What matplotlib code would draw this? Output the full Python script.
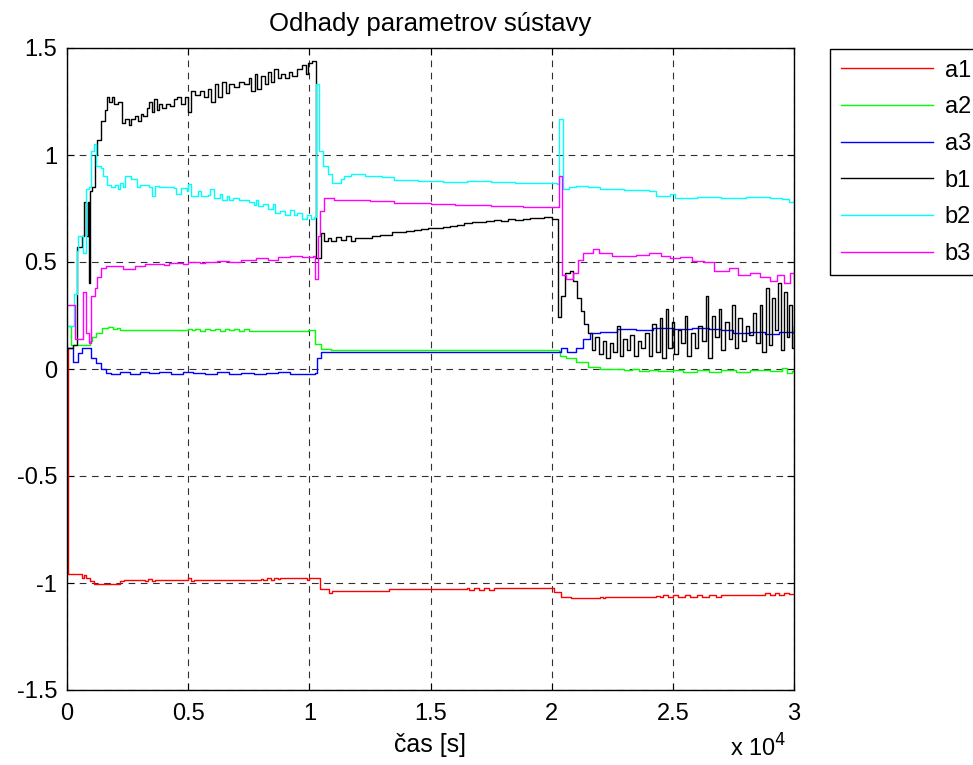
import matplotlib
matplotlib.use("Agg")
import matplotlib.pyplot as plt

plt.rcParams['font.family'] = ['Liberation Sans', 'DejaVu Sans']

# Parameter estimates: breakpoints (time in s, value), held constant between samples
t_a1 = [0, 40, 600, 700, 800, 950, 1100, 2200, 2350, 3200, 3350, 3500, 3650, 5000, 5100, 5250,
        8000, 8100, 8250, 8400, 8550, 8700, 8800, 9900, 10000, 10450, 10800, 10950, 13300,
        16500, 16600, 16800, 17000, 17200, 17400, 17600, 20100, 20400, 20800, 22000, 22100, 22200,
        24300, 24450, 24600, 24800, 25000, 25200, 25500, 25700, 26000, 26200, 26500, 26800, 27000,
        28800, 29000, 29200, 29400, 29600, 29800, 30000]
a1 = [0.10, -0.958, -0.975, -0.962, -0.975, -0.99, -1.003, -0.99, -0.985, -0.99, -0.982, -0.99, -0.985,
      -0.978, -0.99, -0.985, -0.98, -0.985, -0.977, -0.985, -0.977, -0.983, -0.977, -0.985, -0.977,
      -1.03, -1.045, -1.038, -1.03, -1.025, -1.032, -1.025, -1.032, -1.025, -1.032, -1.022,
      -1.04, -1.065, -1.072, -1.066, -1.072, -1.066, -1.060, -1.067, -1.058, -1.066, -1.058, -1.066,
      -1.058, -1.065, -1.058, -1.065, -1.057, -1.064, -1.055, -1.048, -1.057, -1.046, -1.055, -1.045,
      -1.052, -1.05]

t_a2 = [0, 150, 900, 950, 1050, 1200, 1450, 1700, 1900, 2050, 2200, 5000, 5150, 5300, 5500, 5700,
        5900, 6100, 6300, 6500, 6700, 6900, 7100, 7300, 7500, 9950, 10250, 10500, 10900, 20300,
        20350, 20600, 21000, 21500, 22000, 23000, 23300, 23600, 24000, 24400, 25000, 25400, 26000,
        26500, 27000, 27600, 28200, 29000, 29500, 29700, 29900, 30000]
a2 = [0.20, 0.11, 0.11, 0.13, 0.15, 0.17, 0.19, 0.195, 0.185, 0.19, 0.18, 0.188, 0.18, 0.186,
      0.178, 0.188, 0.18, 0.186, 0.178, 0.188, 0.18, 0.186, 0.178, 0.186, 0.178, 0.18, 0.115,
      0.095, 0.09, 0.085, 0.06, 0.05, 0.035, 0.01, 0.0, -0.005, 0.0, -0.008, -0.003, -0.01, -0.004,
      -0.012, -0.006, -0.012, -0.004, -0.012, -0.006, -0.01, 0.005, -0.02, -0.01, -0.015]

t_a3 = [0, 250, 450, 600, 900, 1000, 1200, 1400, 1600, 1800, 2200, 2600, 3000, 3400, 3800, 4300,
        4800, 5200, 5700, 6200, 6700, 7200, 7700, 8200, 8700, 9200, 9700, 10250, 10300, 10500,
        20300, 20400, 20650, 21000, 21300, 21600, 22000, 22700, 23500, 24200, 25000, 25800,
        26500, 27000, 27500, 28200, 28800, 29400, 30000]
a3 = [0.10, 0.035, 0.075, 0.10, 0.10, 0.05, 0.03, 0.0, -0.02, -0.025, -0.015, -0.022, -0.012,
      -0.02, -0.015, -0.023, -0.012, -0.02, -0.025, -0.015, -0.022, -0.018, -0.025, -0.02,
      -0.015, -0.025, -0.022, -0.02, 0.05, 0.08, 0.08, 0.10, 0.08, 0.10, 0.14, 0.17, 0.175,
      0.185, 0.18, 0.19, 0.185, 0.19, 0.185, 0.18, 0.17, 0.175, 0.165, 0.175, 0.17]

t_b1 = [0, 250, 400, 600, 700, 780, 850, 900, 950, 1050, 1150, 1250, 1400, 1550, 1650, 1750, 1850,
        1950, 2100, 2250, 2400, 2550, 2650, 2800, 2950, 3050, 3150, 3300, 3400, 3500, 3600, 3700,
        3800, 3900, 4100, 4250, 4400, 4550, 4700, 4850, 5000, 5100, 5300, 5500, 5650, 5800, 5950,
        6100, 6250, 6400, 6550, 6700, 6900, 7100, 7300, 7500, 7600, 7750, 7850, 8000, 8150, 8300,
        8400, 8550, 8700, 8850, 9000, 9150, 9300, 9500, 9700, 9850, 9950, 10100, 10280, 10500,
        10600, 10750, 10900, 11100, 11300, 11500, 11700, 11900, 12200, 12600, 12900, 13200, 13400,
        13700, 14000, 14300, 14600, 14900, 15200, 15500, 15800, 16100, 16400, 16700, 17000, 17300,
        17600, 17900, 18200, 18500, 18800, 19100, 19400, 19700, 20000, 20250, 20400, 20550, 20750,
        20900, 21050, 21200, 21350, 21500, 21650, 21800, 21950, 22100, 22250, 22400, 22550, 22700,
        22800, 22950, 23100, 23250, 23400, 23550, 23700, 23850, 24000, 24150, 24300, 24450, 24550,
        24700, 24800, 24950, 25050, 25200, 25350, 25500, 25600, 25750, 25900, 26050, 26200, 26350,
        26450, 26600, 26750, 26900, 27000, 27150, 27300, 27450, 27550, 27700, 27850, 28000, 28150,
        28300, 28450, 28600, 28700, 28850, 28950, 29100, 29200, 29350, 29450, 29600, 29700, 29800,
        29900, 30000]
b1 = [0.10, 0.11, 0.57, 0.62, 0.78, 0.62, 0.78, 0.40, 0.83, 0.85, 1.0, 1.07, 1.16, 1.21, 1.27,
      1.25, 1.27, 1.24, 1.25, 1.15, 1.17, 1.14, 1.17, 1.18, 1.16, 1.19, 1.18, 1.22, 1.25, 1.20,
      1.26, 1.21, 1.24, 1.22, 1.24, 1.23, 1.26, 1.27, 1.24, 1.27, 1.20, 1.30, 1.28, 1.30, 1.27,
      1.31, 1.25, 1.33, 1.27, 1.34, 1.29, 1.33, 1.32, 1.34, 1.33, 1.36, 1.30, 1.38, 1.31, 1.37,
      1.33, 1.39, 1.34, 1.40, 1.36, 1.38, 1.36, 1.39, 1.37, 1.40, 1.42, 1.38, 1.43, 1.44, 0.52,
      0.635, 0.60, 0.61, 0.60, 0.615, 0.605, 0.62, 0.60, 0.61, 0.61, 0.62, 0.625, 0.625, 0.64,
      0.64, 0.645, 0.65, 0.655, 0.66, 0.66, 0.665, 0.67, 0.675, 0.68, 0.685, 0.685, 0.69, 0.695,
      0.69, 0.70, 0.695, 0.70, 0.705, 0.705, 0.71, 0.70, 0.245, 0.34, 0.45, 0.46, 0.41, 0.33,
      0.27, 0.21, 0.17, 0.09, 0.15, 0.07, 0.13, 0.05, 0.12, 0.08, 0.20, 0.06, 0.14, 0.09, 0.16,
      0.06, 0.13, 0.10, 0.17, 0.06, 0.21, 0.08, 0.24, 0.05, 0.28, 0.10, 0.22, 0.07, 0.18, 0.12,
      0.25, 0.06, 0.17, 0.10, 0.20, 0.13, 0.34, 0.05, 0.25, 0.15, 0.28, 0.09, 0.22, 0.14, 0.30,
      0.10, 0.24, 0.13, 0.20, 0.16, 0.26, 0.12, 0.30, 0.08, 0.38, 0.11, 0.33, 0.18, 0.40, 0.09,
      0.36, 0.15, 0.30, 0.10, 0.20]

t_b2 = [0, 300, 400, 470, 650, 780, 900, 1000, 1120, 1200, 1400, 1500, 1650, 1800, 2000, 2100,
        2200, 2300, 2400, 2650, 2900, 3000, 3400, 3500, 3650, 3800, 4400, 4500, 4700, 4950, 5000,
        5100, 5400, 5550, 5800, 5900, 6050, 6300, 6400, 6600, 6700, 6850, 7100, 7500, 7700, 7800,
        7900, 8100, 8300, 8500, 8600, 8800, 9000, 9200, 9350, 9500, 9700, 9900, 10050, 10200,
        10270, 10400, 10550, 10750, 10950, 11300, 11450, 11700, 12300, 13000, 13500, 14500, 15500,
        16500, 17500, 18500, 19500, 20200, 20300, 20450, 20700, 21000, 21500, 22000, 23000, 24000,
        24300, 24700, 24900, 25100, 26000, 27000, 28000, 29000, 29500, 29800, 30000]
b2 = [0.20, 0.35, 0.55, 0.62, 0.54, 0.84, 0.85, 1.02, 1.05, 0.95, 0.94, 0.90, 0.86, 0.85, 0.86,
      0.84, 0.87, 0.85, 0.90, 0.89, 0.85, 0.86, 0.85, 0.81, 0.855, 0.85, 0.845, 0.82, 0.845,
      0.83, 0.865, 0.81, 0.83, 0.81, 0.815, 0.84, 0.80, 0.82, 0.79, 0.81, 0.79, 0.80, 0.79, 0.78,
      0.765, 0.79, 0.76, 0.77, 0.75, 0.77, 0.73, 0.74, 0.72, 0.745, 0.72, 0.73, 0.70, 0.72, 0.70,
      0.71, 1.33, 1.02, 0.95, 0.91, 0.87, 0.89, 0.90, 0.91, 0.90, 0.895, 0.885, 0.88, 0.875,
      0.88, 0.875, 0.87, 0.87, 0.865, 1.17, 0.84, 0.85, 0.855, 0.85, 0.84, 0.835, 0.83, 0.81,
      0.81, 0.82, 0.80, 0.805, 0.80, 0.805, 0.80, 0.795, 0.78, 0.785]

t_b3 = [0, 350, 650, 780, 900, 1000, 1150, 1250, 1400, 1600, 2300, 2800, 3200, 4000, 4200, 4800,
        5000, 5500, 5700, 6200, 6700, 7200, 7800, 8300, 8700, 9200, 9700, 10150, 10250, 10350,
        10450, 10600, 11000, 12500, 13500, 15000, 16000, 17500, 18800, 20300, 20430, 20600, 20900,
        21100, 21300, 21700, 21950, 22500, 23500, 24000, 24500, 24900, 25300, 25800, 26300, 26700,
        27300, 27700, 28200, 28600, 29000, 29300, 29600, 29850, 30000]
b3 = [0.30, 0.14, 0.36, 0.17, 0.12, 0.34, 0.38, 0.43, 0.47, 0.48, 0.465, 0.48, 0.49, 0.485,
      0.495, 0.49, 0.50, 0.495, 0.50, 0.505, 0.50, 0.51, 0.52, 0.51, 0.525, 0.53, 0.525, 0.53,
      0.42, 0.62, 0.74, 0.80, 0.79, 0.785, 0.775, 0.77, 0.765, 0.76, 0.755, 0.90, 0.44, 0.42,
      0.45, 0.51, 0.54, 0.56, 0.54, 0.53, 0.535, 0.54, 0.53, 0.52, 0.525, 0.505, 0.50, 0.46,
      0.47, 0.44, 0.45, 0.43, 0.41, 0.44, 0.40, 0.45, 0.42]

names = ['a1', 'a2', 'a3', 'b1', 'b2', 'b3']
colors = ['#ff0000', '#00ff00', '#0000ff', '#000000', '#00ffff', '#ff00ff']
series = [(t_a1, a1), (t_a2, a2), (t_a3, a3), (t_b1, b1), (t_b2, b2), (t_b3, b3)]

x_ticks = [0, 5000, 10000, 15000, 20000, 25000, 30000]
x_tick_labels = ['0', '0.5', '1', '1.5', '2', '2.5', '3']
y_ticks = [-1.5, -1, -0.5, 0, 0.5, 1, 1.5]
y_tick_labels = ['-1.5', '-1', '-0.5', '0', '0.5', '1', '1.5']

fig = plt.figure(figsize=(9.73, 7.65), dpi=100)
ax = fig.add_axes([67 / 973, 1 - 690 / 765, (794 - 67) / 973, (690 - 48) / 765])

for (t, v), name, c in zip(series, names, colors):
    ax.plot(t, v, drawstyle='steps-post', color=c, lw=1.0, label=name)

ax.set_xlim(0, 30000)
ax.set_ylim(-1.5, 1.5)
ax.set_xticks(x_ticks)
ax.set_xticklabels(x_tick_labels)
ax.set_yticks(y_ticks)
ax.set_yticklabels(y_tick_labels)
ax.tick_params(direction='in', top=True, right=True, length=5, width=0.8,
               labelsize=17, pad=7)
ax.tick_params(axis='x', pad=9)
ax.grid(True, color='#303030', linestyle=(0, (6, 5)), linewidth=0.8)
for s in ax.spines.values():
    s.set_linewidth(1.0)

ax.set_title('Odhady parametrov sústavy', fontsize=18.5, pad=12)
ax.set_xlabel('čas [s]', fontsize=18, labelpad=6)
fig.text(730 / 973, 1 - 762 / 765, 'x 10$^4$', fontsize=17, ha='left', va='bottom')

leg = ax.legend(loc='upper left', bbox_to_anchor=(830 / 973, 1 - 49 / 765),
                bbox_transform=fig.transFigure, fontsize=17, handlelength=3.9,
                labelspacing=0.62, borderpad=0.45, handletextpad=0.5,
                fancybox=False, framealpha=1, edgecolor='black', borderaxespad=0)
leg.get_frame().set_linewidth(1.0)

fig.savefig('out.png', dpi=100)
